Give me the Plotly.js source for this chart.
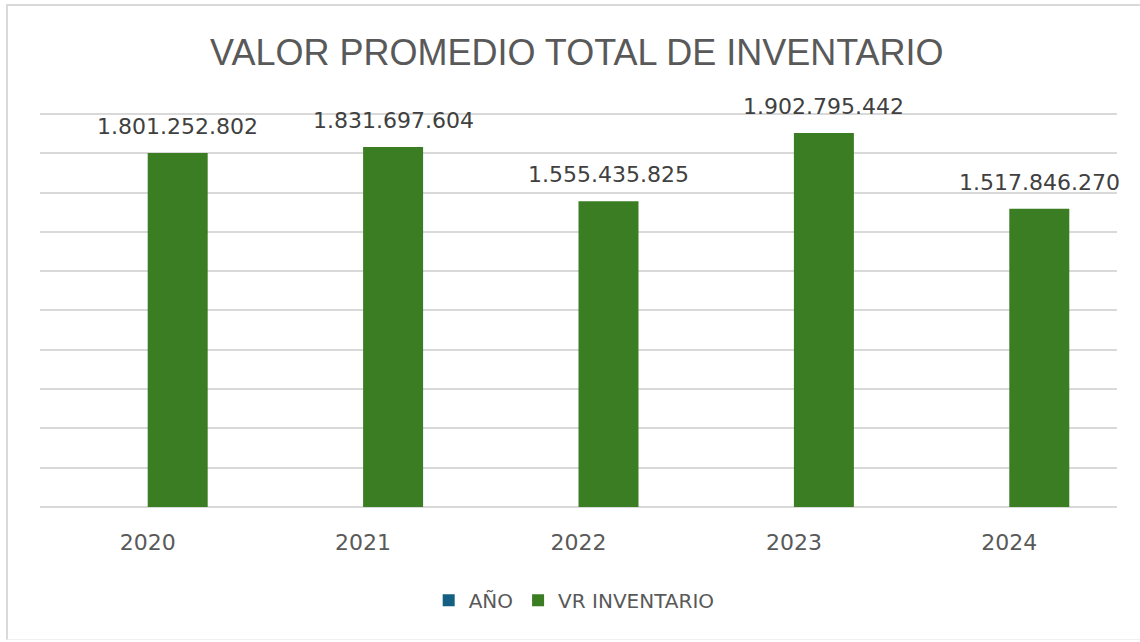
<!DOCTYPE html>
<html>
<head>
<meta charset="utf-8">
<script src="https://cdn.plot.ly/plotly-3.0.1.min.js"></script>
<style>
  html, body { margin: 0; padding: 0; background: #ffffff; }
  #chart { position: absolute; left: 0; top: 0; width: 1140px; height: 642px; }
  #frame { position: absolute; left: 6px; top: 4px; width: 1140px; height: 636px;
           border-top: 2px solid #d9d9d9; border-left: 2px solid #d9d9d9;
           border-bottom: 1px solid #f0f0f0; pointer-events: none; box-sizing: border-box; }
</style>
</head>
<body>
<div id="chart"></div>
<div id="frame"></div>
<script>
const categories = ['2020', '2021', '2022', '2023', '2024'];
const anoValues = [2020, 2021, 2022, 2023, 2024];
const inventarioValues = [1801252802, 1831697604, 1555435825, 1902795442, 1517846270];
const seriesNames = ['AÑO', 'VR INVENTARIO'];

function fmt(v) {
  return String(Math.round(v)).replace(/\B(?=(\d{3})+(?!\d))/g, '.');
}

const traces = [
  {
    type: 'bar', name: seriesNames[0], x: categories, y: anoValues,
    marker: { color: '#156082' }, hoverinfo: 'x+y+name'
  },
  {
    type: 'bar', name: seriesNames[1], x: categories, y: inventarioValues,
    marker: { color: '#3A7D22' }, hoverinfo: 'x+y+name'
  }
];

const annotations = categories.map((c, i) => ({
  x: i, y: inventarioValues[i], xref: 'x', yref: 'y',
  text: fmt(inventarioValues[i]), showarrow: false,
  xanchor: 'center', yanchor: 'bottom', xshift: 30, yshift: 12,
  font: { family: 'DejaVu Sans', size: 22, color: '#404040' }
}));

const layout = {
  width: 1140, height: 642,
  margin: { l: 40, r: 23, t: 112, b: 135 },
  paper_bgcolor: '#ffffff', plot_bgcolor: '#ffffff',
  title: {
    text: 'VALOR PROMEDIO TOTAL DE INVENTARIO',
    font: { family: 'Liberation Sans', size: 36, color: '#595959' },
    x: 0.506, xanchor: 'center', y: 0.918, yref: 'container', yanchor: 'middle'
  },
  barmode: 'group', bargap: 0.443, bargroupgap: 0,
  showlegend: true,
  legend: {
    orientation: 'h', x: 0.496, xanchor: 'center', y: -0.236, yanchor: 'middle',
    font: { family: 'DejaVu Sans', size: 20, color: '#595959' },
    itemwidth: 30
  },
  xaxis: {
    type: 'category', categoryorder: 'array', categoryarray: categories,
    range: [-0.5, categories.length - 0.5], autorange: false,
    showgrid: false, showline: false, zeroline: false,
    ticks: '', ticklabelstandoff: 20,
    tickfont: { family: 'DejaVu Sans', size: 22, color: '#595959' }
  },
  yaxis: {
    range: [0, 2010000000], autorange: false, dtick: 200000000, showticklabels: false,
    showgrid: true, gridcolor: '#d9d9d9', gridwidth: 2,
    zeroline: true, zerolinecolor: '#d9d9d9', zerolinewidth: 2, showline: false,
    fixedrange: true
  },
  annotations: annotations
};

Plotly.newPlot('chart', traces, layout, { displayModeBar: false, staticPlot: true });
</script>
</body>
</html>
